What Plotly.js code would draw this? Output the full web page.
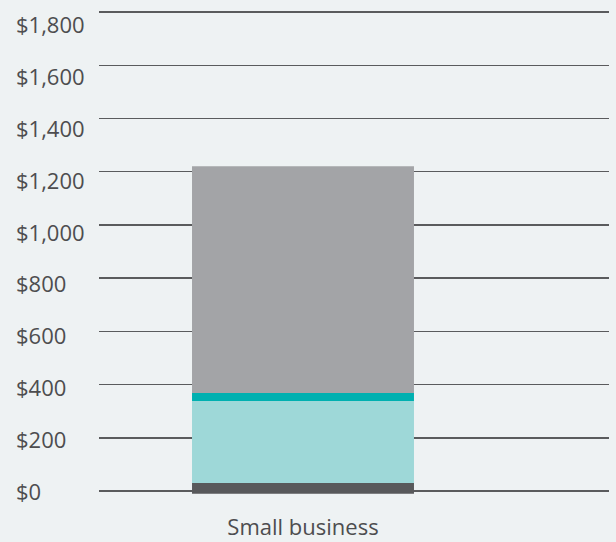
<!DOCTYPE html>
<html>
<head>
<meta charset="utf-8">
<script src="https://cdn.plot.ly/plotly-3.0.1.min.js"></script>
<style>html,body{margin:0;padding:0;background:#eef2f3;}#chart{width:616px;height:542px;}</style>
</head>
<body>
<div id="chart"></div>
<script>
// Data
var categories = ["Small business"];
var startValue = -10;
var segmentNames = ["Segment 1", "Segment 2", "Segment 3", "Segment 4"];
var seg1 = [40];
var seg2 = [308];
var seg3 = [30];
var seg4 = [853];
var tickValues = [0, 200, 400, 600, 800, 1000, 1200, 1400, 1600, 1800];
var tickLabels = ["$0", "$200", "$400", "$600", "$800", "$1,000", "$1,200", "$1,400", "$1,600", "$1,800"];

var colors = ["#58595b", "#9ed8d8", "#00b0b0", "#a3a4a7"];
var series = [seg1, seg2, seg3, seg4];

var traces = [];
var base = categories.map(function(){ return startValue; });
series.forEach(function(vals, i){
  traces.push({
    type: "bar",
    name: segmentNames[i],
    x: categories,
    y: vals,
    base: base.slice(),
    width: 0.544,
    marker: {color: colors[i], line: {width: 0}},
    hoverinfo: "y"
  });
  base = base.map(function(b, j){ return b + vals[j]; });
});

var annotations = tickValues.map(function(v, i){
  return {
    xref: "paper", yref: "y2", x: -0.167, y: v,
    xanchor: "left", yanchor: "middle",
    text: tickLabels[i], showarrow: false,
    font: {family: "Open Sans", size: 22, color: "#4d4d4f"}
  };
});

var layout = {
  width: 616, height: 542,
  paper_bgcolor: "#eef2f3", plot_bgcolor: "#eef2f3",
  margin: {l: 99, r: 7, t: 11, b: 35},
  barmode: "overlay",
  showlegend: false,
  xaxis: {
    range: [-0.5, 0.75],
    showgrid: false, zeroline: false, showline: false,
    ticks: "", ticklabelstandoff: 5,
    tickfont: {family: "Open Sans", size: 22, color: "#4d4d4f"}
  },
  yaxis: {
    range: [-60, 1804],
    tickvals: tickValues,
    showticklabels: false,
    showgrid: true, gridcolor: "#5a5b5d", gridwidth: 1.5,
    zeroline: false, showline: false, ticks: ""
  },
  yaxis2: {
    overlaying: "y", range: [-61.7, 1850.4],
    visible: false, showgrid: false, zeroline: false
  },
  annotations: annotations
};

Plotly.newPlot("chart", traces, layout, {displayModeBar: false, staticPlot: true});
</script>
</body>
</html>
